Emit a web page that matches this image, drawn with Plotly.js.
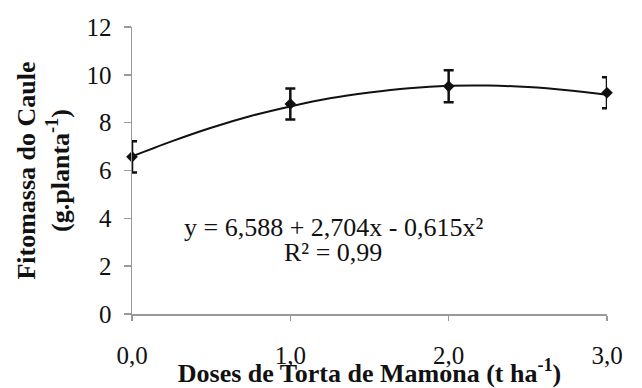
<!DOCTYPE html>
<html>
<head>
<meta charset="utf-8">
<script src="https://cdn.plot.ly/plotly-3.0.1.min.js"></script>
<style>html,body{margin:0;padding:0;background:#fff;}#chart{width:642px;height:388px;}</style>
</head>
<body>
<div id="chart"></div>
<script>
// Observed means with error bars
const doses = [0, 1, 2, 3];
const fitomassa = [6.57, 8.78, 9.52, 9.25];
const erro = [0.65, 0.65, 0.67, 0.65];

// Fitted curve
const curvaX = [0, 0.25, 0.5, 0.75, 1, 1.25, 1.5, 1.75, 2, 2.25, 2.5, 2.75, 3];
const curvaY = [6.59, 7.22, 7.79, 8.28, 8.68, 9.02, 9.26, 9.44, 9.54, 9.55, 9.49, 9.36, 9.17];

const xTickVals = [0, 1, 2, 3];
const xTickText = ['0,0', '1,0', '2,0', '3,0'];
const yTickVals = [0, 2, 4, 6, 8, 10, 12];

const equacao = 'y = 6,588 + 2,704x - 0,615x²';
const r2 = 'R² = 0,99';

const serif = '"Liberation Serif", "DejaVu Serif", "Times New Roman", Times, serif';

const traces = [
  {
    x: curvaX, y: curvaY, type: 'scatter', mode: 'lines',
    line: {color: '#111', width: 2, shape: 'spline'},
    hoverinfo: 'skip', cliponaxis: false
  },
  {
    x: doses, y: fitomassa, type: 'scatter', mode: 'markers',
    marker: {symbol: 'diamond', size: 9, color: '#111'},
    error_y: {type: 'data', array: erro, visible: true, color: '#111', thickness: 2.5, width: 5},
    cliponaxis: false
  }
];

const layout = {
  width: 642, height: 388,
  margin: {l: 132, r: 35, t: 27, b: 74},
  paper_bgcolor: '#fff', plot_bgcolor: '#fff',
  showlegend: false,
  font: {family: serif, color: '#111'},
  xaxis: {
    range: [0, 3], tickvals: xTickVals, ticktext: xTickText,
    showgrid: false, zeroline: false, showline: true, linecolor: '#999', linewidth: 1.5,
    ticks: 'outside', ticklen: 5, tickcolor: '#999', tickwidth: 1.5,
    tickfont: {family: serif, size: 25, color: '#111'},
    ticklabelstandoff: 13,
    automargin: false,
    title: {text: 'Doses de Torta de Mamona (t ha<sup>-1</sup>)', font: {family: serif, size: 26, color: '#111', weight: 'bold'}, standoff: 6}
  },
  yaxis: {
    range: [0, 12], tickvals: yTickVals,
    showgrid: false, zeroline: false, showline: true, linecolor: '#999', linewidth: 1.5,
    ticks: 'outside', ticklen: 7, tickcolor: '#999', tickwidth: 1.5,
    tickfont: {family: serif, size: 25, color: '#111'},
    ticklabelstandoff: 7,
    automargin: false,
    title: {text: 'Fitomassa do Caule<br>(g.planta<sup>-1</sup>)', font: {family: serif, size: 26, color: '#111', weight: 'bold'}, standoff: 9}
  },
  annotations: [
    {x: 1.27, y: 3.62, xref: 'x', yref: 'y', text: equacao, showarrow: false, font: {family: serif, size: 26, color: '#111'}},
    {x: 1.27, y: 2.58, xref: 'x', yref: 'y', text: r2, showarrow: false, font: {family: serif, size: 26, color: '#111'}}
  ]
};

Plotly.newPlot('chart', traces, layout, {displayModeBar: false, staticPlot: true});
</script>
</body>
</html>
